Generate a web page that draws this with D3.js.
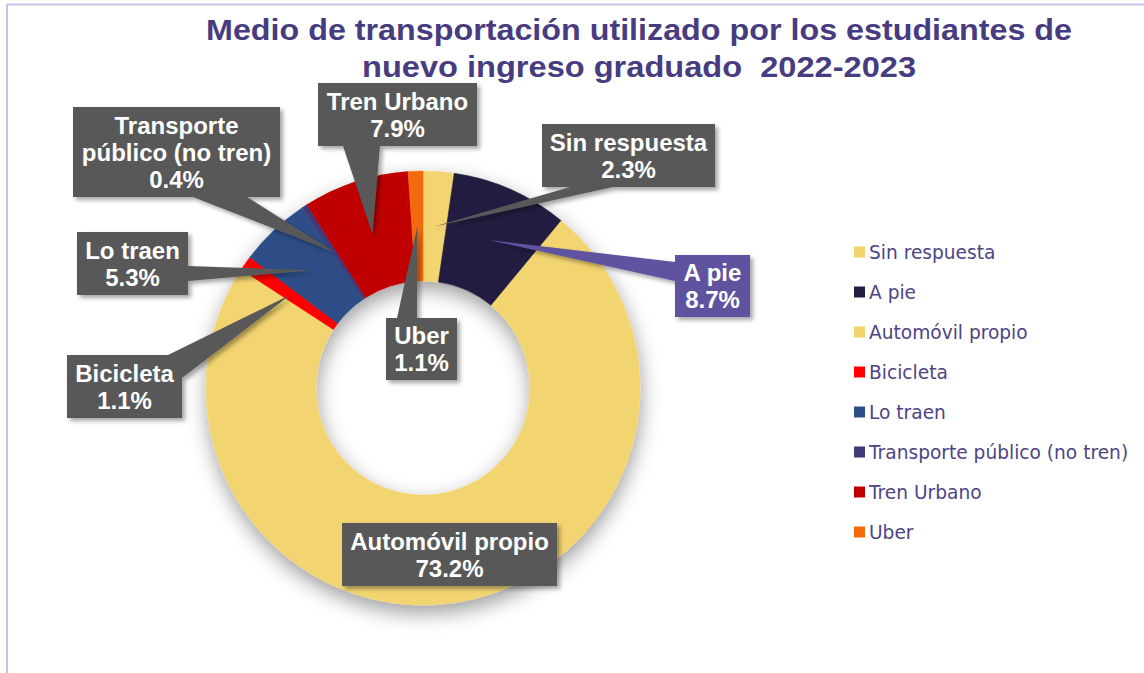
<!DOCTYPE html>
<html>
<head>
<meta charset="utf-8">
<script src="https://cdn.jsdelivr.net/npm/d3@7/dist/d3.min.js"></script>
<style>
  html, body { margin: 0; padding: 0; background: #fff; }
  svg { display: block; }
  text { white-space: pre; }
</style>
</head>
<body>
<svg id="chart" width="1144" height="673"></svg>
<script>
// ---- Data ----
const categories = ["Sin respuesta", "A pie", "Automóvil propio", "Bicicleta", "Lo traen", "Transporte público (no tren)", "Tren Urbano", "Uber"];
const values = [2.3, 8.7, 73.2, 1.1, 5.3, 0.4, 7.9, 1.1];
const colors = ["#F2D46F", "#231D3F", "#F2D46F", "#FF0000", "#2E4E87", "#3F3B78", "#C00000", "#F26B0A"];
const titleLines = ["Medio de transportación utilizado por los estudiantes de", "nuevo ingreso graduado  2022-2023"];
const labelLines = [["Sin respuesta"], ["A pie"], ["Automóvil propio"], ["Bicicleta"], ["Lo traen"], ["Transporte", "público (no tren)"], ["Tren Urbano"], ["Uber"]];

// ---- Layout (callout boxes & wedge bases) ----
const callouts = [
  { box: [542, 124, 173, 63], base: [[570, 187], [613, 187]], fill: "#595959" },
  { box: [675, 255, 75, 62], base: [[675, 262], [675, 281]], fill: "#5F52A0" },
  { box: [342, 523, 215, 63], base: null, fill: "#595959" },
  { box: [67, 355, 115, 63], base: [[168, 355], [182, 378]], fill: "#595959" },
  { box: [77, 232, 111, 63], base: [[188, 266], [188, 281]], fill: "#595959" },
  { box: [73, 107, 207, 90], base: [[193, 197], [247, 197]], fill: "#595959" },
  { box: [318, 83, 159, 63], base: [[343, 146], [380, 146]], fill: "#595959" },
  { box: [386, 318, 71, 62], base: [[397, 318], [417, 318]], fill: "#595959" }
];

const svg = d3.select("#chart");
const defs = svg.append("defs");

const f1 = defs.append("filter").attr("id", "donutShadow").attr("x", "-20%").attr("y", "-20%").attr("width", "140%").attr("height", "140%");
f1.append("feDropShadow").attr("dx", 1).attr("dy", 8).attr("stdDeviation", 10).attr("flood-color", "#000").attr("flood-opacity", 0.38);

const f2 = defs.append("filter").attr("id", "boxShadow").attr("x", "-20%").attr("y", "-20%").attr("width", "140%").attr("height", "140%");
f2.append("feDropShadow").attr("dx", 3).attr("dy", 3).attr("stdDeviation", 2.2).attr("flood-color", "#000").attr("flood-opacity", 0.35);

// Border
svg.append("path")
  .attr("d", "M7,680 L7,4.5 L1150,4.5")
  .attr("fill", "none").attr("stroke", "#C9C3E6").attr("stroke-width", 2);

// Title
const titleColor = "#483C80";
const titleWidths = [866, 554];
const titleY = [40, 77];
titleLines.forEach((t, i) => {
  svg.append("text")
    .attr("x", 639).attr("y", titleY[i])
    .attr("text-anchor", "middle")
    .attr("xml:space", "preserve")
    .attr("font-family", "'Liberation Sans', Arial, sans-serif")
    .attr("font-weight", "bold")
    .attr("font-size", 29)
    .attr("fill", titleColor)
    .attr("textLength", titleWidths[i])
    .attr("lengthAdjust", "spacingAndGlyphs")
    .text(t);
});

// Donut
const cx = 423, cy = 388, R = 217, r = 107;
const pie = d3.pie().sort(null).value(d => d)(values);
const arc = d3.arc().innerRadius(r).outerRadius(R);

const g = svg.append("g").attr("transform", `translate(${cx},${cy})`);
const ring = g.append("g").attr("filter", "url(#donutShadow)");
ring.selectAll("path").data(pie).join("path")
  .attr("d", arc)
  .attr("fill", (d, i) => colors[i])
  .attr("stroke", (d, i) => colors[i])
  .attr("stroke-width", 0.5);

// Callouts
const cg = svg.append("g");
pie.forEach((d, i) => {
  const c = callouts[i];
  const [bx, by, bw, bh] = c.box;
  const [tx, ty] = arc.centroid(d);
  const tip = [tx + cx, ty + cy];
  const grp = cg.append("g").attr("filter", "url(#boxShadow)");
  const p = d3.path();
  p.rect(bx, by, bw, bh);
  grp.append("path").attr("d", p.toString()).attr("fill", c.fill);
  if (c.base) {
    const w = d3.path();
    w.moveTo(c.base[0][0], c.base[0][1]);
    w.lineTo(tip[0], tip[1]);
    w.lineTo(c.base[1][0], c.base[1][1]);
    w.lineTo(bx + bw / 2, by + bh / 2);
    w.closePath();
    grp.append("path").attr("d", w.toString()).attr("fill", c.fill);
  }
  const lines = labelLines[i].concat([d3.format(".1f")(values[i]) + "%"]);
  const lh = 27;
  const startY = by + bh / 2 - (lines.length - 1) * lh / 2 + 8.5;
  const txt = cg.append("text")
    .attr("text-anchor", "middle")
    .attr("font-family", "'Liberation Sans', Arial, sans-serif")
    .attr("font-weight", "bold")
    .attr("font-size", 24)
    .attr("fill", "#fff");
  lines.forEach((l, k) => {
    txt.append("tspan").attr("x", bx + bw / 2).attr("y", startY + k * lh).text(l);
  });
});

// Legend
const legend = svg.append("g");
categories.forEach((cat, i) => {
  const y = 252 + i * 40;
  legend.append("rect").attr("x", 854).attr("y", y - 5.5).attr("width", 11).attr("height", 11).attr("fill", colors[i]);
  legend.append("text")
    .attr("x", 869).attr("y", y + 6.5)
    .attr("font-family", "'DejaVu Sans', sans-serif")
    .attr("font-size", 18.6)
    .attr("fill", "#4D4585")
    .text(cat);
});
</script>
</body>
</html>
